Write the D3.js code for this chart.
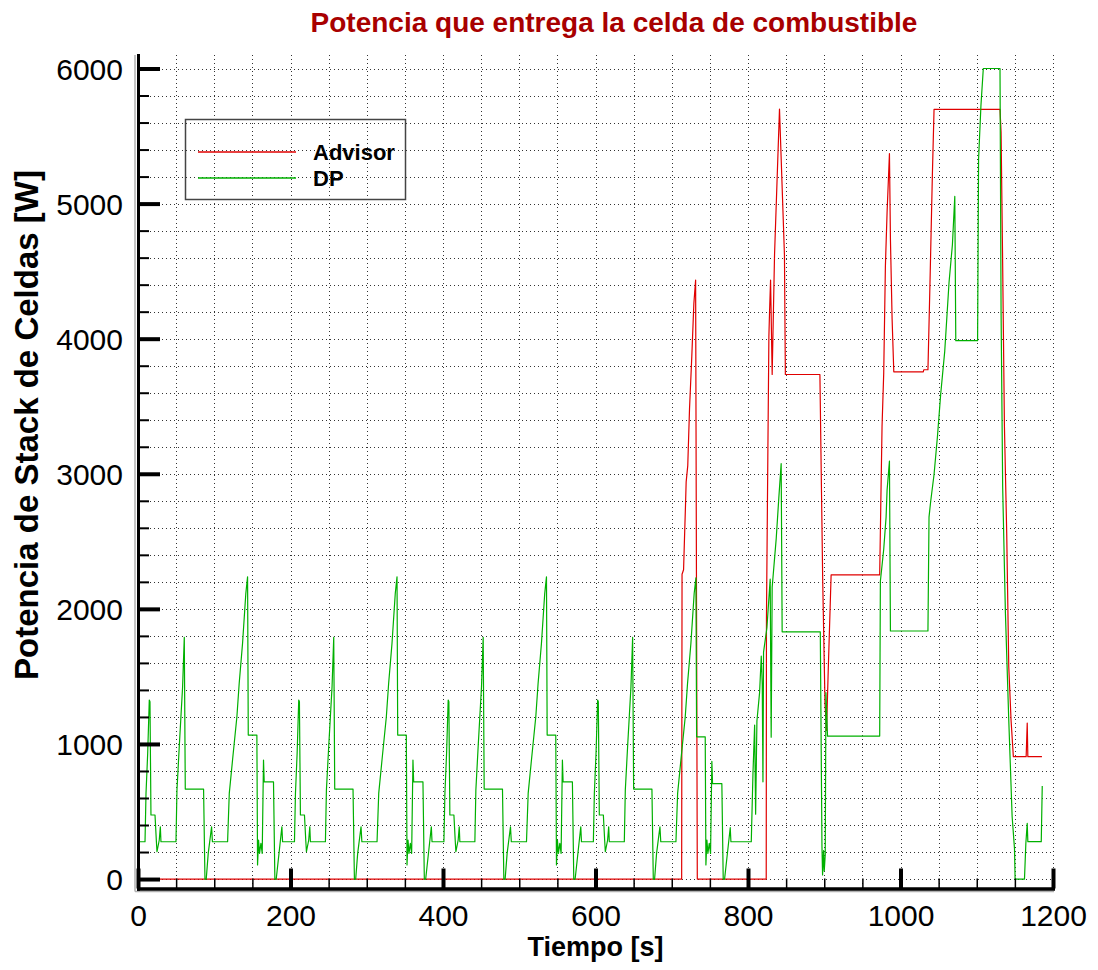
<!DOCTYPE html>
<html><head><meta charset="utf-8">
<script src="https://cdn.jsdelivr.net/npm/d3@7"></script>
<style>
body{margin:0;background:#fff;}
svg{display:block;}
</style></head><body>
<svg id="chart" width="1098" height="970"></svg>
<script>
// ---------- data ----------
const chartTitle = "Potencia que entrega la celda de combustible";
const xTitle = "Tiempo [s]";
const yTitle = "Potencia de Stack de Celdas [W]";
const seriesNames = ["Advisor", "DP"];
const xTickValues = [0, 200, 400, 600, 800, 1000, 1200];
const yTickValues = [0, 1000, 2000, 3000, 4000, 5000, 6000];

// Advisor strategy: [time s, power W]
const advisorPoints = [
  [0,0],[713.0,0],[713.5,2256],[715.5,2290],[716.7,2520],[718.0,2760],[718.9,2940],[721.0,3060],
  [723.3,3480],[726.3,3870],[729.0,4260],[731.3,4434],[733.5,0],[823.9,0],[824.2,1920],[826.0,3120],
  [827.4,4020],[828.2,4185],[829.6,4434],[831.7,3735],[834.8,4620],[841.3,5700],[847.8,4620],[849.0,3735],
  [894.3,3735],[898.0,2200],[901.0,1300],[903.0,1100],[905.0,1500],[909.0,2251],[972.7,2251],[975.8,3352],
  [978.0,3747],[980.2,4539],[982.4,4934],[985.5,5370],[986.8,4737],[989.0,4143],[991.2,3755],[1029.9,3755],
  [1030.5,3770],[1036.0,3770],[1038.7,4420],[1041.8,5211],[1044.0,5698],[1130.5,5698],[1131.9,5528],
  [1134.0,4539],[1136.3,3352],[1139.3,2560],[1142.0,1571],[1145.0,1175],[1148.0,906],[1164.8,906],
  [1166.2,1155],[1167.0,906],[1185.5,906]
];

// DP strategy, urban cycles 1-4 and extra-urban part: [time s, power W]
const dpUrban1 = [
  [0,276],[9.2,276],[10.5,634],[12.7,930],[14.8,1325],[15.7,1312],[17.0,474],[22.3,474],[24.0,289],[24.9,202],
  [27.9,289],[29.3,387],[30.1,276],[49.8,276],[51.1,659],[54.1,979],[56.3,1201],[58.5,1423],[60.7,1789],
  [62.0,666],[86.0,666],[87.8,0],[89.5,0],[92.1,190],[96.5,387],[97.6,276],[117.5,276],[119.7,634],[124.0,881],
  [129.7,1201],[132.7,1448],[137.1,1744],[141.4,2114],[143.7,2237],[144.6,1066],[155.9,1066],[156.8,104],
  [158.1,289],[159.4,190],[161.2,264],[162.9,190],[164.6,881],[165.5,720],[177.7,720],[179.5,0],[181.3,0],
  [188.7,387],[189.6,276]
];
const dpUrban2 = [
  [205.2,276],[206.5,634],[208.7,930],[210.8,1325],[211.7,1312],[213.0,474],[218.3,474],[220.0,289],[220.9,202],
  [223.9,289],[225.3,387],[226.1,276],[245.8,276],[247.1,659],[250.1,979],[252.3,1201],[254.5,1423],[256.7,1789],
  [258.0,666],[282.0,666],[283.8,0],[285.5,0],[288.1,190],[292.5,387],[293.6,276],[313.5,276],[315.7,634],[320.0,881],
  [325.7,1201],[328.7,1448],[333.1,1744],[337.4,2114],[339.7,2237],[340.6,1066],[351.9,1066],[352.8,104],
  [354.1,289],[355.4,190],[357.2,264],[358.9,190],[360.6,881],[361.5,720],[373.7,720],[375.5,0],[377.3,0],
  [384.7,387],[385.6,276]
];
const dpUrban3 = [
  [401.2,276],[402.5,634],[404.7,930],[406.8,1325],[407.7,1312],[409.0,474],[414.3,474],[416.0,289],[416.9,202],
  [419.9,289],[421.3,387],[422.1,276],[441.8,276],[443.1,659],[446.1,979],[448.3,1201],[450.5,1423],[452.7,1789],
  [454.0,666],[478.0,666],[479.8,0],[481.5,0],[484.1,190],[488.5,387],[489.6,276],[509.5,276],[511.7,634],[516.0,881],
  [521.7,1201],[524.7,1448],[529.1,1744],[533.4,2114],[535.7,2237],[536.6,1066],[547.9,1066],[548.8,104],
  [550.1,289],[551.4,190],[553.2,264],[554.9,190],[556.6,881],[557.5,720],[569.7,720],[571.5,0],[573.3,0],
  [580.7,387],[581.6,276]
];
const dpUrban4 = [
  [597.2,276],[598.5,634],[600.7,930],[602.8,1325],[603.7,1312],[605.0,474],[610.3,474],[612.0,289],[612.9,202],
  [615.9,289],[617.3,387],[618.1,276],[637.8,276],[639.1,659],[642.1,979],[644.3,1201],[646.5,1423],[648.7,1789],
  [650.0,666],[674.0,666],[675.8,0],[677.5,0],[680.1,190],[684.5,387],[685.6,276],[705.5,276],[707.7,634],[712.0,881],
  [717.7,1201],[720.7,1448],[725.1,1744],[729.4,2114],[731.7,2230],[732.6,1053],[743.9,1053],[744.8,104],
  [746.1,289],[747.4,190],[749.2,264],[750.9,190],[752.6,872],[753.5,707],[765.7,707],[767.5,0],[769.3,0],
  [776.7,380],[777.6,276]
];
const dpExtraUrban = [
  [804.3,276],[806.5,780],[808.7,1140],[810.0,480],[811.7,1170],[815.2,1380],[817.4,1650],[818.7,1440],
  [819.6,720],[820.4,1680],[824.8,1860],[829.1,2220],[830.4,1050],[831.7,2160],[837.0,2520],[840.4,2820],
  [843.5,3075],[844.8,1830],[894.8,1830],[897.0,240],[897.8,30],[899.1,210],[900.0,60],[901.3,180],
  [902.2,1380],[904.3,1058],[972.7,1058],[973.6,2204],[978.0,2441],[981.1,2679],[982.4,2877],[985.5,3094],
  [986.8,1836],[1036.0,1836],[1037.4,2679],[1039.6,2797],[1044.0,2995],[1048.4,3272],[1052.7,3589],
  [1058.0,3906],[1063.7,4420],[1068.1,4697],[1071.2,5053],[1072.5,3985],[1101.1,3985],[1102.4,5330],
  [1105.5,5726],[1108.6,6000],[1130.5,6000],[1131.9,4200],[1134.0,2900],[1137.6,1967],[1142.0,1175],
  [1146.4,463],[1149.5,225],[1150.3,0],[1162.6,0],[1164.4,265],[1166.2,412],[1167.0,277],[1184.6,277],
  [1185.9,689]
];

// ---------- drawing ----------
const FONT = "'Liberation Sans', Arial, Helvetica, sans-serif";
const svg = d3.select("#chart");
svg.append("rect").attr("width",1098).attr("height",970).attr("fill","#fff");

const x = d3.scaleLinear().domain([0, 1200]).range([138, 1053]);
const y = d3.scaleLinear().domain([-70, 6100]).range([888.5, 55]);

const [xL, xR] = x.range();
const [yB, yT] = y.range();

// dotted grid
const grid = svg.append("g").attr("stroke", "#333").attr("stroke-width", 1)
  .attr("stroke-dasharray", "1,3").attr("shape-rendering", "crispEdges");
grid.selectAll("line.v").data(d3.range(50, 1201, 50)).join("line")
  .attr("class","v").attr("x1", d => Math.round(x(d)) + 0.5).attr("x2", d => Math.round(x(d)) + 0.5)
  .attr("y1", yT).attr("y2", yB);
grid.selectAll("line.h").data(d3.range(0, 6001, 200)).join("line")
  .attr("class","h").attr("y1", d => Math.round(y(d)) + 0.5).attr("y2", d => Math.round(y(d)) + 0.5)
  .attr("x1", xL).attr("x2", xR);

// series
const line = d3.line().x(d => x(d[0])).y(d => y(d[1]));
const dpPoints = [].concat(dpUrban1, dpUrban2, dpUrban3, dpUrban4, dpExtraUrban);
svg.append("path").datum(advisorPoints).attr("d", line)
  .attr("fill", "none").attr("stroke", "#e00000").attr("stroke-width", 1.2).attr("stroke-linejoin","round");
svg.append("path").datum(dpPoints).attr("d", line)
  .attr("fill", "none").attr("stroke", "#00b000").attr("stroke-width", 1.2).attr("stroke-linejoin","round");

// axis shadows
svg.append("line").attr("x1", xL - 3).attr("x2", xL - 3).attr("y1", yT).attr("y2", yB + 3)
  .attr("stroke", "#b0b0b0").attr("stroke-width", 1.5);
svg.append("line").attr("x1", xL - 3).attr("x2", xR + 1).attr("y1", yB + 3).attr("y2", yB + 3)
  .attr("stroke", "#b0b0b0").attr("stroke-width", 1.5);

// axes
function styleAxis(g, w) {
  g.attr("font-family", FONT);
  g.selectAll(".tick line").attr("stroke", "#000").attr("stroke-width", w);
  g.select(".domain").attr("stroke", "#000").attr("stroke-width", 3).attr("stroke-linecap", "square");
}
const yMinor = d3.range(200, 6001, 200).filter(v => v % 1000 !== 0);
const xMinor = d3.range(50, 1201, 50).filter(v => v % 200 !== 0);

const gyMinor = svg.append("g").attr("transform", `translate(${xL},0)`)
  .call(d3.axisLeft(y).tickValues(yMinor).tickSizeInner(-11).tickSizeOuter(0).tickFormat(""));
styleAxis(gyMinor, 2);
const gy = svg.append("g").attr("transform", `translate(${xL},0)`)
  .call(d3.axisLeft(y).tickValues(yTickValues).tickSizeInner(-22).tickSizeOuter(0).tickPadding(15).tickFormat(d3.format("d")));
styleAxis(gy, 4);
gy.selectAll(".tick text").attr("font-size", 30).attr("fill", "#000").attr("dy", "0.36em");

const gxMinor = svg.append("g").attr("transform", `translate(0,${yB})`)
  .call(d3.axisBottom(x).tickValues(xMinor).tickSizeInner(-10).tickSizeOuter(0).tickFormat(""));
styleAxis(gxMinor, 1.5);
const gx = svg.append("g").attr("transform", `translate(0,${yB})`)
  .call(d3.axisBottom(x).tickValues(xTickValues).tickSizeInner(-20).tickSizeOuter(0).tickPadding(16).tickFormat(d3.format("d")));
styleAxis(gx, 4);
gx.selectAll(".tick text").attr("font-size", 30).attr("fill", "#000");

// titles
svg.append("text").attr("x", 614).attr("y", 32).attr("text-anchor", "middle")
  .attr("font-family", FONT).attr("font-weight", "bold").attr("font-size", 28)
  .attr("fill", "#a80000").text(chartTitle);
svg.append("text").attr("x", (xL + xR) / 2).attr("y", 956).attr("text-anchor", "middle")
  .attr("font-family", FONT).attr("font-weight", "bold").attr("font-size", 27)
  .attr("fill", "#000").text(xTitle);
svg.append("text").attr("transform", "translate(38,425) rotate(-90)").attr("text-anchor", "middle")
  .attr("font-family", FONT).attr("font-weight", "bold").attr("font-size", 33)
  .attr("fill", "#000").text(yTitle);

// legend
const legend = svg.append("g");
legend.append("rect").attr("x", 185.5).attr("y", 119.5).attr("width", 220).attr("height", 80)
  .attr("fill", "none").attr("stroke", "#444").attr("stroke-width", 1.5);
const legendColors = ["#e00000", "#00b000"];
seriesNames.forEach((name, i) => {
  const ly = 152 + i * 26;
  legend.append("line").attr("x1", 198).attr("x2", 296).attr("y1", ly).attr("y2", ly)
    .attr("stroke", legendColors[i]).attr("stroke-width", 1.3);
  legend.append("text").attr("x", 313).attr("y", ly + 8)
    .attr("font-family", FONT).attr("font-weight", "bold").attr("font-size", 22)
    .attr("fill", "#000").text(name);
});
</script>
</body></html>
